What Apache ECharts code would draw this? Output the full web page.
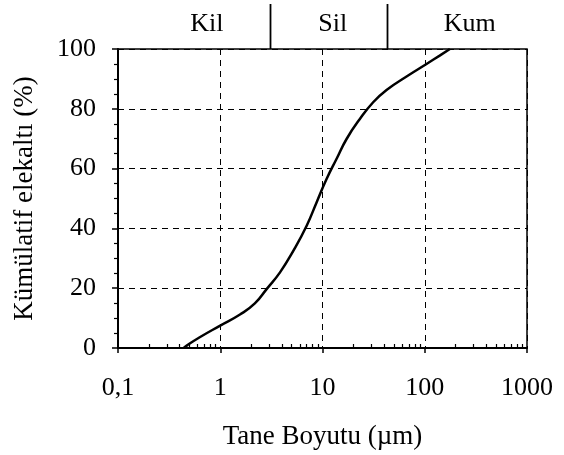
<!DOCTYPE html>
<html>
<head>
<meta charset="utf-8">
<script src="https://cdn.jsdelivr.net/npm/echarts@6/dist/echarts.min.js"></script>
<style>
	html, body {margin: 0; padding: 0; background: #fff;}
	#chart {width: 564px; height: 455px;}
</style>
</head>
<body>
<div id="chart"></div>
<script>
// grain size (µm) and cumulative passing (%)
const sizes = [0.44, 0.47, 0.63, 1, 1.56, 2.18, 2.84, 3.84, 5.18, 7.0, 8.75, 10.96, 13.7, 17.2, 23.2, 31.3, 42.3, 66.4, 104, 140, 176];
const passing = [0, 0.8, 3.6, 7.5, 11.2, 14.9, 19.7, 25.3, 32.5, 40.9, 48.7, 56.5, 63.2, 69.9, 76.6, 82.2, 86.3, 90.8, 95, 97.8, 100];

const xTickLabels = {0.1: '0,1', 1: '1', 10: '10', 100: '100', 1000: '1000'};

// soil classes along the top
const zoneNames = ['Kil', 'Sil', 'Kum'];
const zoneCenters = [0.74, 12.6, 275];
const zoneBounds = [3.1, 43];

const minorTicks = [];
[0.1, 1, 10, 100].forEach(function (d) {
	for (let k = 2; k <= 9; k++) minorTicks.push(Math.log10(d * k));
});

const font = 'Liberation Serif';
const node = document.getElementById('chart');
const chart = echarts.init(node);

chart.setOption({
	animation: false,
	textStyle: {fontFamily: font, color: '#000'},
	grid: {
		left: 118, right: 37, top: 49, bottom: 106,
		show: true, borderColor: '#000', borderWidth: 1.5,
	},
	xAxis: [
		{
			type: 'log',
			logBase: 10,
			min: 0.1,
			max: 1000,
			name: 'Tane Boyutu (µm)',
			nameLocation: 'middle',
			nameGap: 75,
			nameTextStyle: {fontFamily: font, fontSize: 27, color: '#000'},
			axisLine: {onZero: false, lineStyle: {color: '#000', width: 2}},
			axisTick: {length: 5, lineStyle: {color: '#000', width: 1.5}},
			axisLabel: {
				margin: 27,
				fontFamily: font,
				fontSize: 26,
				color: '#000',
				formatter: function (v) {
					return xTickLabels[Math.round(v * 10) / 10] || '';
				}
			},
			splitLine: {show: true, lineStyle: {color: '#000', type: [6, 5], width: 1}},
			minorTick: {show: false},
		},
		{
			type: 'value',
			min: -1,
			max: 3,
			position: 'bottom',
			axisLine: {show: false, onZero: false},
			axisLabel: {show: false},
			splitLine: {show: false},
			axisTick: {
				show: true,
				inside: true,
				length: 4,
				customValues: minorTicks,
				lineStyle: {color: '#000', width: 1.2},
			},
		}
	],
	yAxis: {
		type: 'value',
		min: 0,
		max: 100,
		interval: 20,
		name: 'Kümülatif elekaltı (%)',
		nameLocation: 'middle',
		nameGap: 80,
		nameTextStyle: {fontFamily: font, fontSize: 27, color: '#000'},
		axisLine: {show: true, onZero: false, lineStyle: {color: '#000', width: 2}},
		axisTick: {show: true, length: 6, lineStyle: {color: '#000', width: 1.5}},
		minorTick: {show: true, splitNumber: 4, length: 4, lineStyle: {color: '#000', width: 1.2}},
		axisLabel: {
			margin: 22,
			fontFamily: font,
			fontSize: 26,
			color: '#000',
		},
		splitLine: {show: true, lineStyle: {color: '#000', type: [6, 5], width: 1}},
	},
	series: [
		{
			type: 'line',
			xAxisIndex: 0,
			data: sizes.map(function (s, i) { return [s, passing[i]]; }),
			smooth: 0.5,
			showSymbol: false,
			lineStyle: {color: '#000', width: 2.5},
		},
	],
});

const plotTop = 49;
const graphics = [];
zoneBounds.forEach(function (b) {
	const x = Math.round(chart.convertToPixel({xAxisIndex: 0}, b)) + 0.5;
	graphics.push({
		type: 'line',
		shape: {x1: x, y1: 4, x2: x, y2: plotTop},
		style: {stroke: '#000', lineWidth: 1.8},
	});
});
zoneNames.forEach(function (name, i) {
	const x = chart.convertToPixel({xAxisIndex: 0}, zoneCenters[i]);
	graphics.push({
		type: 'text',
		x: x,
		y: 24,
		style: {
			text: name,
			fontFamily: font,
			fontSize: 26,
			fill: '#000',
			align: 'center',
			verticalAlign: 'middle',
		},
	});
});
chart.setOption({graphic: graphics});
</script>
</body>
</html>
